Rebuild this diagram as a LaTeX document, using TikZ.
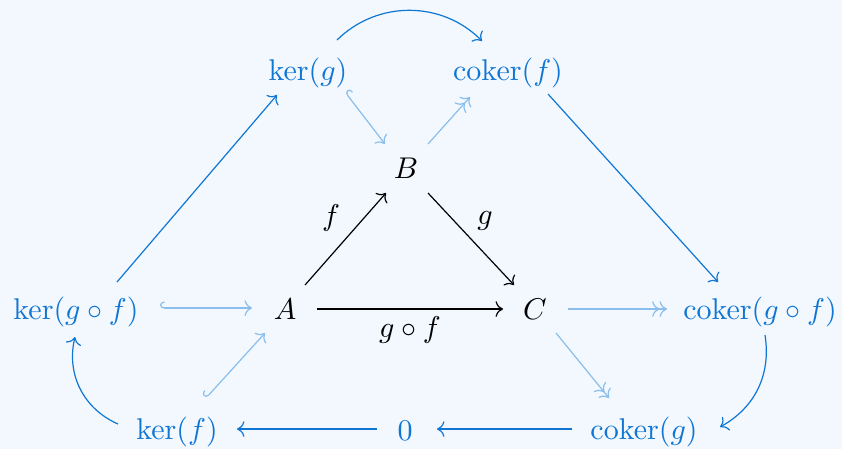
\documentclass[tikz,border=0pt]{standalone}
\usepackage{amsmath}
\usetikzlibrary{cd,calc}
\definecolor{bgc}{RGB}{242,248,254}
\definecolor{dblue}{RGB}{16,118,212}
\definecolor{lblue}{RGB}{138,190,236}
\tikzset{
  obj/.style={anchor=base,inner sep=0pt},
  bobj/.style={obj,text=dblue},
  lab/.style={inner sep=0pt},
  blk/.style={->},
  strong/.style={->,draw=dblue},
  weak/.style={draw=lblue},
  hk/.style={weak,{tikzcd right hook}->},
  epi/.style={weak,->>},
}
\begin{document}
\begin{tikzpicture}[x=0.33333pt,y=0.33333pt,>={tikzcd to}]
\useasboundingbox[fill=bgc] (0,0) rectangle (842,-449);
% nodes (base points)
\node[bobj] (kg)  at (308,-80)  {$\ker(g)$};
\node[bobj] (cf)  at (508,-80)  {$\operatorname{coker}(f)$};
\node[obj]  (B)   at (406,-178) {$B$};
\node[obj]  (A)   at (285,-319) {$A$};
\node[obj]  (C)   at (535,-319) {$C$};
\node[bobj] (kgf) at (76,-319)  {$\ker(g\circ f)$};
\node[bobj] (cgf) at (760,-319) {$\operatorname{coker}(g\circ f)$};
\node[bobj] (kf)  at (177,-439) {$\ker(f)$};
\node[bobj] (z)   at (405,-440) {$0$};
\node[bobj] (cg)  at (644,-439) {$\operatorname{coker}(g)$};
% labels
\node[lab] (lf)   at (331,-218) {$f$};
\node[lab] (lg)   at (485,-221) {$g$};
\node[lab] (lgf)  at (410,-330) {$g\circ f$};
% black triangle
\draw[blk] ($(A.base)+(20,34)$) -- ($(B.base)+(-20,-15)$);
\draw[blk] ($(B.base)+(22,-15)$) -- ($(C.base)+(-21,34)$);
\draw[blk] ($(A.base)+(32,10)$) -- ($(C.base)+(-32,10)$);
% strong blue arrows
\draw[strong] ($(kg.base)+(29,40)$) to[bend left=45] ($(cf.base)+(-26,39)$);
\draw[strong] ($(cgf.base)+(5,-16)$) to[bend left=35] ($(cg.base)+(76,12)$);
\draw[strong] ($(kf.base)+(-59,15)$) to[bend left=40] ($(kgf.base)+(-1,-18)$);
\draw[strong] ($(kgf.base)+(41,37)$) -- ($(kg.base)+(-31,-15)$);
\draw[strong] ($(cf.base)+(40,-14)$) -- ($(cgf.base)+(-42,37)$);
\draw[strong] ($(z.base)+(-28,11)$) -- ($(kf.base)+(60,10)$);
\draw[strong] ($(cg.base)+(-72,10)$) -- ($(z.base)+(32,11)$);
% light arrows
\draw[hk] ($(kgf.base)+(84,11)$) -- ($(A.base)+(-33,11)$);
\draw[hk] ($(kg.base)+(37,-12)$) -- ($(B.base)+(-21,34)$);
\draw[hk] ($(kf.base)+(29,41)$) -- ($(A.base)+(-20,-14)$);
\draw[epi] ($(B.base)+(22,34)$) -- ($(cf.base)+(-38,-17)$);
\draw[epi] ($(C.base)+(33,10)$) -- ($(cgf.base)+(-93,10)$);
\draw[epi] ($(C.base)+(21,-14)$) -- ($(cg.base)+(-35,41)$);
\end{tikzpicture}
\end{document}
